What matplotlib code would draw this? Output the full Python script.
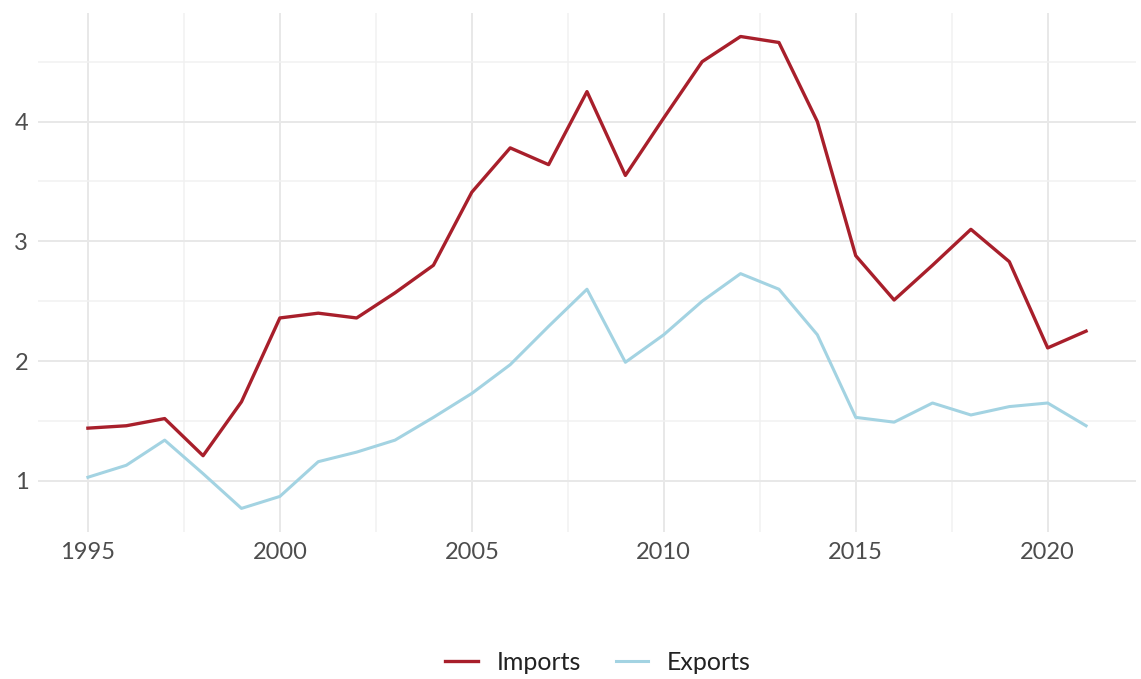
import matplotlib
matplotlib.use("Agg")
import matplotlib.pyplot as plt
from matplotlib.ticker import MultipleLocator

# Daten
years = list(range(1995, 2022))
imports = [1.44, 1.46, 1.52, 1.21, 1.66, 2.36, 2.40, 2.36, 2.57, 2.80,
           3.41, 3.78, 3.64, 4.25, 3.55, 4.03, 4.50, 4.71, 4.66, 4.00,
           2.88, 2.51, 2.80, 3.10, 2.83, 2.11, 2.25]
exports = [1.03, 1.13, 1.34, 1.06, 0.77, 0.87, 1.16, 1.24, 1.34, 1.53,
           1.73, 1.97, 2.29, 2.60, 1.99, 2.22, 2.50, 2.73, 2.60, 2.22,
           1.53, 1.49, 1.65, 1.55, 1.62, 1.65, 1.46]
x_ticks = [1995, 2000, 2005, 2010, 2015, 2020]
y_ticks = [1, 2, 3, 4]

red = "#a81f2b"
blue = "#a3d3e2"
text_col = "#4d4d4d"

plt.rcParams['font.family'] = ['Lato', 'DejaVu Sans']

fig = plt.figure(figsize=(11.41, 6.79), dpi=100)
ax = fig.add_axes([0.0333, 0.2165, 0.9623, 0.7645])

ax.plot(years, imports, color=red, lw=2.4, label="Imports")
ax.plot(years, exports, color=blue, lw=2.2, label="Exports")

# ggplot-artige Achsenerweiterung (5%)
xr = max(years) - min(years)
ax.set_xlim(min(years) - 0.05 * xr, max(years) + 0.05 * xr)
lo = min(min(imports), min(exports))
hi = max(max(imports), max(exports))
yr = hi - lo
ax.set_ylim(lo - 0.05 * yr, hi + 0.05 * yr)

ax.set_xticks(x_ticks)
ax.set_yticks(y_ticks)
ax.xaxis.set_minor_locator(MultipleLocator(2.5))
ax.yaxis.set_minor_locator(MultipleLocator(0.5))
ax.grid(which="major", color="#e8e8e8", lw=1.4)
ax.grid(which="minor", color="#f1f1f1", lw=1.1)
ax.set_axisbelow(True)

for s in ax.spines.values():
    s.set_visible(False)
ax.tick_params(which="both", length=0)
ax.tick_params(axis="x", labelsize=17, colors=text_col, pad=7)
ax.tick_params(axis="y", labelsize=17, colors=text_col, pad=7)

fig.legend(loc="center", bbox_to_anchor=(0.524, 0.024), ncol=2, frameon=False,
           fontsize=18, handlelength=1.3, columnspacing=1.4, handletextpad=0.75,
           labelcolor="#222222")

fig.savefig("out.png", dpi=100, facecolor="white")
